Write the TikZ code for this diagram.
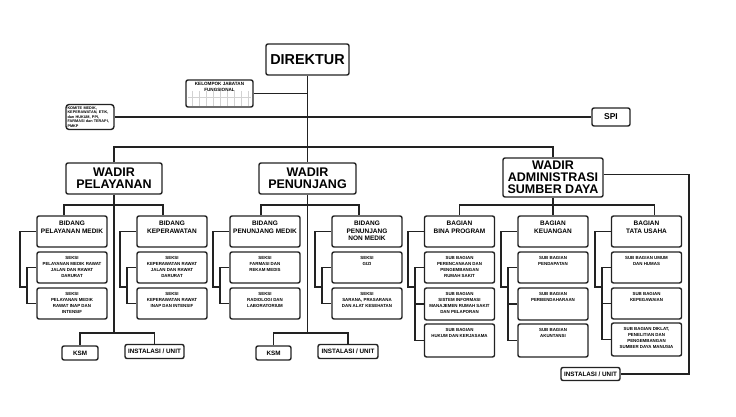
\documentclass[tikz,border=0pt]{standalone}
\usepackage{fontspec}
\setmainfont{Liberation Sans}
\definecolor{linegray}{HTML}{222222}
\definecolor{gridgray}{HTML}{D2D2D2}

\tikzset{
  orgline/.style={draw=linegray, line width=1.7pt},
  orgbox/.style={draw=linegray, line width=1.4pt, rounded corners=2pt, fill=white, inner sep=1pt},
  wadirbox/.style={orgbox, align=center, font=\bfseries\fontsize{12.5}{12}\selectfont},
  toptext/.style={anchor=north, inner sep=1pt, align=center},
  bidbox/.style={orgbox, minimum width=70pt, minimum height=31pt, label={[bidtext]north:{#1}}},
  bidtext/.style={toptext, yshift=-4.5pt, font=\bfseries\fontsize{6.5}{7.5}\selectfont},
  subbox/.style={orgbox, minimum width=70pt, minimum height=31pt, label={[subtext]north:{#1}}},
  subtext/.style={toptext, yshift=-3.5pt, font=\bfseries\fontsize{4.4}{6}\selectfont},
  unitbox/.style={orgbox, minimum height=14pt, font=\bfseries\fontsize{6.3}{7}\selectfont}
}

\begin{document}
\begin{tikzpicture}[x=1pt,y=-1pt]
\useasboundingbox (0,0) rectangle (736,417);

% direktur and staff
\node[orgbox, minimum width=83pt, minimum height=31pt, font=\bfseries\fontsize{14.4}{16}\selectfont] (dir) at (307.5,59.5) {DIREKTUR};
\node[orgbox, minimum width=67pt, minimum height=27pt,
  label={[toptext, yshift=-2pt, font=\bfseries\fontsize{4.6}{6}\selectfont]north:{KELOMPOK JABATAN\\FUNGSIONAL}}] (kjf) at (219.5,93.5) {};
\node[orgbox, rounded corners=3pt, text width=45pt, align=left, inner sep=1.5pt, minimum height=25pt,
  font=\bfseries\fontsize{3.8}{4.6}\selectfont] (kom) at (90,117) {KOMITE MEDIK,\\KEPERAWATAN, ETIK,\\dan HUKUM, PPI,\\FARMASI dan TERAPI,\\PMKP};
\node[orgbox, minimum width=38pt, minimum height=18pt, font=\bfseries\fontsize{8.5}{10}\selectfont] (spi) at (611,117) {SPI};

% faint grid in kelompok box
\foreach \x in {192,199,...,248}
\draw[gridgray, line width=0.4pt] (\x,91) -- (\x,106);
\draw[gridgray, line width=0.4pt] (188,97) -- (251,97);

% wakil direktur
\node[wadirbox, minimum width=96pt, minimum height=31pt] (wp) at (114,178.5) {WADIR\\PELAYANAN};
\node[wadirbox, minimum width=97pt, minimum height=31pt] (wn) at (307.5,178.5) {WADIR\\PENUNJANG};
\node[wadirbox, minimum width=100pt, minimum height=39pt] (wa) at (553,177.5) {WADIR\\ADMINISTRASI\\SUMBER DAYA};

% bidang and bagian
\node[bidbox={BIDANG\\PELAYANAN MEDIK}] (bpm) at (72,231.5) {};
\node[bidbox={BIDANG\\KEPERAWATAN}] (bk) at (172,231.5) {};
\node[bidbox={BIDANG\\PENUNJANG MEDIK}] (bpn) at (265,231.5) {};
\node[bidbox={BIDANG\\PENUNJANG\\NON MEDIK}] (bnm) at (367,231.5) {};
\node[bidbox={BAGIAN\\BINA PROGRAM}] (bbp) at (459.5,231.5) {};
\node[bidbox={BAGIAN\\KEUANGAN}] (bku) at (553,231.5) {};
\node[bidbox={BAGIAN\\TATA USAHA}] (btu) at (646.5,231.5) {};

% seksi
\node[subbox={SEKSI\\PELAYANAN MEDIK RAWAT\\JALAN DAN RAWAT\\DARURAT}] (pm1) at (72,267.5) {};
\node[subbox={SEKSI\\PELAYANAN MEDIK\\RAWAT INAP DAN\\INTENSIF}] (pm2) at (72,303.5) {};
\node[subbox={SEKSI\\KEPERAWATAN RAWAT\\JALAN DAN RAWAT\\DARURAT}] (kp1) at (172,267.5) {};
\node[subbox={SEKSI\\KEPERAWATAN RAWAT\\INAP DAN INTENSIF}] (kp2) at (172,303.5) {};
\node[subbox={SEKSI\\FARMASI DAN\\REKAM MEDIS}] (pn1) at (265,267.5) {};
\node[subbox={SEKSI\\RADIOLOGI DAN\\LABORATORIUM}] (pn2) at (265,303.5) {};
\node[subbox={SEKSI\\GIZI}] (nm1) at (367,267.5) {};
\node[subbox={SEKSI\\SARANA, PRASARANA\\DAN ALAT KESEHATAN}] (nm2) at (367,303.5) {};

% sub bagian
\node[subbox={SUB BAGIAN\\PERENCANAAN DAN\\PENGEMBANGAN\\RUMAH SAKIT}] (bp1) at (459.5,267.5) {};
\node[subbox={SUB BAGIAN\\SISTEM INFORMASI\\MANAJEMEN RUMAH SAKIT\\DAN PELAPORAN}, minimum height=32pt] (bp2) at (459.5,304) {};
\node[subbox={SUB BAGIAN\\HUKUM DAN KERJASAMA}, minimum height=33pt] (bp3) at (459.5,340.5) {};
\node[subbox={SUB BAGIAN\\PENDAPATAN}] (ku1) at (553,267.5) {};
\node[subbox={SUB BAGIAN\\PERBENDAHARAAN}, minimum height=32pt] (ku2) at (553,304) {};
\node[subbox={SUB BAGIAN\\AKUNTANSI}, minimum height=33pt] (ku3) at (553,340.5) {};
\node[subbox={SUB BAGIAN UMUM\\DAN HUMAS}] (tu1) at (646.5,267.5) {};
\node[subbox={SUB BAGIAN\\KEPEGAWAIAN}] (tu2) at (646.5,303.5) {};
\node[subbox={SUB BAGIAN DIKLAT,\\PENELITIAN DAN\\PENGEMBANGAN\\SUMBER DAYA MANUSIA}, minimum height=33pt] (tu3) at (646.5,339.5) {};

% ksm and instalasi
\node[unitbox, minimum width=36pt] (pksm) at (80,353) {KSM};
\node[unitbox, minimum width=59pt] (pins) at (154.5,351.5) {INSTALASI / UNIT};
\node[unitbox, minimum width=35pt] (nksm) at (273.5,353) {KSM};
\node[unitbox, minimum width=60pt] (nins) at (348,351.5) {INSTALASI / UNIT};
\node[unitbox, minimum width=59pt, minimum height=13pt] (ains) at (590.5,374) {INSTALASI / UNIT};

% bus points
\coordinate (bus) at (307.5,147);
\coordinate (pbus) at (114,205);
\coordinate (nbus) at (307.5,205);
\coordinate (abus) at (553,205);
\coordinate (pbot) at (114,333);
\coordinate (nbot) at (307.5,333);

% main lines
\draw[orgline] (kom) -- (spi);
\draw[orgline] (dir) -- (bus);
\draw[orgline] (kjf.east) -- (kjf.east -| dir.south);
\draw[orgline] (wp) |- (bus) -| (wa);
\draw[orgline] (bus) -- (wn);
\draw[orgline] (wp) -- (pbot);
\draw[orgline] (wn) -- (nbot);
\draw[orgline] (wa) -- (bku);
\draw[orgline] ([yshift=3pt]wa.east) -- ++(85pt,0) |- (ains.east);

% lines to bidang and bagian
\draw[orgline] ([xshift=-8pt]bpm.north) |- (pbus) -| ([xshift=-9pt]bk.north);
\draw[orgline] ([xshift=-4pt]bpn.north) |- (nbus) -| ([xshift=-8pt]bnm.north);
\draw[orgline] (bbp.north) |- (abus) -| ([xshift=8pt]btu.north);

% lines to ksm and instalasi
\draw[orgline] (pksm) |- (pbot) -| (pins);
\draw[orgline] (nksm) |- (nbot) -| (nins);

% brackets to seksi and sub bagian
\foreach \b/\s/\t in {bpm/pm1/pm2, bk/kp1/kp2, bpn/pn1/pn2, bnm/nm1/nm2, bbp/bp1/bp3, bku/ku1/ku3, btu/tu1/tu3}
{
\draw[orgline] (\b.west) -| ([xshift=-16pt,yshift=-3pt]\s.south west) -- ([xshift=-9pt,yshift=-3pt]\s.south west);
\draw[orgline] (\s.west) -- ++(-9pt,0) |- (\t.west);
}
\foreach \m in {bp2,ku2,tu2}
\draw[orgline] (\m.west) -- ++(-9pt,0);

\end{tikzpicture}
\end{document}
